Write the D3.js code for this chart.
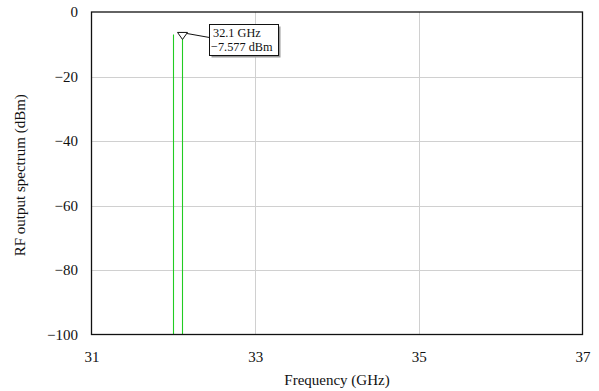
<!DOCTYPE html>
<html>
<head>
<meta charset="utf-8">
<script src="https://cdn.jsdelivr.net/npm/d3@7"></script>
<style>
  body { margin: 0; background: #fff; }
  svg { display: block; font-family: "Liberation Serif", "Times New Roman", serif; }
</style>
</head>
<body>
<svg id="chart" width="599" height="391"></svg>
<script>
// Spectrum lines (GHz, dBm) and the marker readout
const freqs = [32.0, 32.1];
const levels = [-7.0, -7.577];
const markerFreq = 32.1;
const markerLevel = -7.577;
const xTicks = [31, 33, 35, 37];
const yTicks = [0, -20, -40, -60, -80, -100];

const svg = d3.select("#chart");
const plotL = 91.5, plotR = 582.5, plotT = 12, plotB = 334.5;

const x = d3.scaleLinear().domain([31, 37]).range([plotL, plotR]);
const y = d3.scaleLinear().domain([-100, 0]).range([plotB, plotT]);

// Grid
const grid = svg.append("g").attr("stroke", "#d0d0d0").attr("stroke-width", 1);
grid.selectAll("line.vx").data(xTicks.filter(d => d > 31 && d < 37)).join("line")
  .attr("x1", d => Math.round(x(d)) + 0.5).attr("x2", d => Math.round(x(d)) + 0.5)
  .attr("y1", plotT).attr("y2", plotB);
grid.selectAll("line.hy").data(yTicks.filter(d => d > -100 && d < 0)).join("line")
  .attr("y1", d => Math.round(y(d)) + 0.5).attr("y2", d => Math.round(y(d)) + 0.5)
  .attr("x1", plotL).attr("x2", plotR);

// Spectrum lines
svg.append("g").selectAll("line").data(freqs).join("line")
  .attr("x1", d => Math.round(x(d)) + 0.5).attr("x2", d => Math.round(x(d)) + 0.5)
  .attr("y1", (d, i) => y(levels[i])).attr("y2", plotB)
  .attr("stroke", "#22cc22").attr("stroke-width", 1.1);

// Frame
svg.append("rect").attr("x", plotL).attr("y", plotT)
  .attr("width", plotR - plotL).attr("height", plotB - plotT)
  .attr("fill", "none").attr("stroke", "#111").attr("stroke-width", 1.3);

// Axes (labels only, ticks drawn as grid)
const xAxis = d3.axisBottom(x).tickValues(xTicks).tickSize(0).tickPadding(17)
  .tickFormat(d3.format("d"));
const gx = svg.append("g").attr("transform", `translate(0,${plotB})`).call(xAxis);
gx.select(".domain").remove();
gx.selectAll("text").attr("font-size", 15).attr("font-family", "Liberation Serif").attr("fill", "#111");

const yAxis = d3.axisLeft(y).tickValues(yTicks).tickSize(0).tickPadding(13.5)
  .tickFormat(d => d < 0 ? "\u2212" + Math.abs(d) : String(d));
const gy = svg.append("g").attr("transform", `translate(${plotL},0)`).call(yAxis);
gy.select(".domain").remove();
gy.selectAll("text").attr("font-size", 15).attr("font-family", "Liberation Serif").attr("fill", "#111");

// Axis titles
svg.append("text").attr("x", 337).attr("y", 385)
  .attr("text-anchor", "middle").attr("font-size", 15).attr("fill", "#111")
  .text("Frequency (GHz)");
svg.append("text").attr("transform", `translate(25,${(plotT + plotB) / 2 + 2}) rotate(-90)`)
  .attr("text-anchor", "middle").attr("font-size", 15).attr("fill", "#111")
  .text("RF output spectrum (dBm)");

// Marker
const mx = Math.round(x(markerFreq)) + 0.5;
const my = y(markerLevel);
const boxX = 209.5, boxY = 24.5, boxW = 69, boxH = 31;
svg.append("line").attr("x1", mx + 4).attr("y1", my - 3).attr("x2", boxX).attr("y2", boxY + 13)
  .attr("stroke", "#111").attr("stroke-width", 1);
svg.append("path")
  .attr("d", `M${mx - 5},${my - 4} L${mx + 5},${my - 4} L${mx},${my + 3} Z`)
  .attr("fill", "#fff").attr("stroke", "#111").attr("stroke-width", 1);
svg.append("rect").attr("x", boxX + 2).attr("y", boxY + 2).attr("width", boxW).attr("height", boxH)
  .attr("fill", "#999");
svg.append("rect").attr("x", boxX).attr("y", boxY).attr("width", boxW).attr("height", boxH)
  .attr("fill", "#fff").attr("stroke", "#111").attr("stroke-width", 1);
svg.append("text").attr("x", boxX + 3.5).attr("y", boxY + 12.5).attr("font-size", 12.3).attr("fill", "#111")
  .text(`${markerFreq} GHz`);
svg.append("text").attr("x", boxX + 1.5).attr("y", boxY + 26.5).attr("font-size", 12.3).attr("fill", "#111")
  .text(`\u2212${Math.abs(markerLevel)} dBm`);
</script>
</body>
</html>
